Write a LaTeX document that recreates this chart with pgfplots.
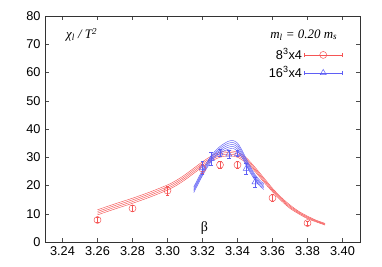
\documentclass[border=0pt]{standalone}
\usepackage{fontspec}
\setmainfont{Liberation Sans}
\newfontfamily\serif{Liberation Serif}
\usepackage{pgfplots}
\pgfplotsset{compat=1.18}
\definecolor{mred}{RGB}{245,85,85}
\definecolor{mblue}{RGB}{95,95,245}
\begin{document}
\fontsize{12.8}{15}\selectfont
\begin{tikzpicture}
\begin{axis}[
  scale only axis, width=315bp, height=226bp,
  xmin=3.23, xmax=3.41, ymin=0, ymax=80,
  xtick={3.24,3.26,3.28,3.30,3.32,3.34,3.36,3.38,3.40},
  ytick={0,10,20,30,40,50,60,70,80},
  x tick label style={/pgf/number format/.cd, fixed, fixed zerofill, precision=2},
  /pgf/number format/assume math mode=true,
  ticklabel style={font=\fontsize{12.8}{15}\selectfont},
  tick align=inside, major tick length=4bp,
  axis line style={black!80, line width=0.6bp},
  tick style={black!70, line width=0.5bp},
  legend plot pos=right, legend cell align=right,
  legend style={draw=none, fill=none, at={(rel axis cs:0.945,0.865)}, anchor=north east,
    font=\fontsize{12.8}{15}\selectfont, row sep=1.5bp, inner sep=0pt},
  legend image code/.code={
    \draw[mark repeat=2,mark phase=2,#1] plot coordinates {(0bp,0bp) (19bp,0bp) (38bp,0bp)};
    \draw[#1] (0bp,-2bp) -- (0bp,2bp);
    \draw[#1] (38bp,-2bp) -- (38bp,2bp);
  },
  error bars/error bar style={line width=0.5bp},
  error bars/error mark options={rotate=90, mark size=1.8bp, line width=0.5bp},
]
% legend images
\addlegendimage{mred, line width=0.5bp, mark=o, mark size=3.5bp}
\addlegendentry{8\textsuperscript{3}x4}
\addlegendimage{mblue, line width=0.5bp, mark=triangle, mark size=3.5bp}
\addlegendentry{16\textsuperscript{3}x4}

% red band
\addplot[mred, line width=0.45bp, smooth, forget plot] coordinates {
(3.26,9.6)(3.27,11.7)(3.28,13.7)(3.29,15.9)(3.30,18.4)(3.305,20.0)(3.31,22.0)(3.315,24.3)(3.32,26.6)(3.325,28.6)(3.33,30.0)(3.335,30.5)(3.34,30.0)(3.345,28.0)(3.35,24.95)(3.355,21.25)(3.36,17.8)(3.365,14.6)(3.37,11.9)(3.375,9.95)(3.38,8.25)(3.385,7.1)(3.39,6.0)};
\addplot[mred, line width=0.45bp, smooth, forget plot] coordinates {
(3.26,10.2)(3.27,12.3)(3.28,14.3)(3.29,16.5)(3.30,19.0)(3.305,20.6)(3.31,22.6)(3.315,24.9)(3.32,27.2)(3.325,29.2)(3.33,30.6)(3.335,31.1)(3.34,30.6)(3.345,28.6)(3.35,25.45)(3.355,21.75)(3.36,18.2)(3.365,15.0)(3.37,12.3)(3.375,10.25)(3.38,8.55)(3.385,7.3)(3.39,6.2)};
\addplot[mred, line width=0.45bp, smooth, forget plot] coordinates {
(3.26,10.8)(3.27,12.9)(3.28,14.9)(3.29,17.1)(3.30,19.6)(3.305,21.2)(3.31,23.2)(3.315,25.5)(3.32,27.8)(3.325,29.8)(3.33,31.2)(3.335,31.7)(3.34,31.2)(3.345,29.2)(3.35,25.95)(3.355,22.25)(3.36,18.6)(3.365,15.4)(3.37,12.7)(3.375,10.55)(3.38,8.85)(3.385,7.5)(3.39,6.4)};
\addplot[mred, line width=0.45bp, smooth, forget plot] coordinates {
(3.26,11.4)(3.27,13.5)(3.28,15.5)(3.29,17.7)(3.30,20.2)(3.305,21.8)(3.31,23.8)(3.315,26.1)(3.32,28.4)(3.325,30.4)(3.33,31.8)(3.335,32.3)(3.34,31.8)(3.345,29.8)(3.35,26.45)(3.355,22.75)(3.36,19.0)(3.365,15.8)(3.37,13.1)(3.375,10.85)(3.38,9.15)(3.385,7.7)(3.39,6.6)};

% blue band
\addplot[mblue, line width=0.45bp, smooth, forget plot] coordinates {
(3.315,17.5)(3.3175,20.5)(3.32,23.5)(3.3225,26.2)(3.325,28.5)(3.3275,30.2)(3.33,31.4)(3.3325,32.3)(3.335,32.9)(3.3375,33.1)(3.34,32.2)(3.3425,30.0)(3.345,27.1)(3.3475,24.3)(3.35,21.9)(3.3525,20.0)(3.355,18.6)};
\addplot[mblue, line width=0.45bp, smooth, forget plot] coordinates {
(3.315,18.0)(3.3175,21.0)(3.32,24.0)(3.3225,26.7)(3.325,29.0)(3.3275,30.75)(3.33,32.0)(3.3325,32.95)(3.335,33.6)(3.3375,33.8)(3.34,32.9)(3.3425,30.65)(3.345,27.7)(3.3475,24.85)(3.35,22.4)(3.3525,20.5)(3.355,19.1)};
\addplot[mblue, line width=0.45bp, smooth, forget plot] coordinates {
(3.315,18.5)(3.3175,21.5)(3.32,24.5)(3.3225,27.2)(3.325,29.5)(3.3275,31.3)(3.33,32.6)(3.3325,33.6)(3.335,34.3)(3.3375,34.5)(3.34,33.6)(3.3425,31.3)(3.345,28.3)(3.3475,25.4)(3.35,22.9)(3.3525,21.0)(3.355,19.6)};
\addplot[mblue, line width=0.45bp, smooth, forget plot] coordinates {
(3.315,19.0)(3.3175,22.0)(3.32,25.0)(3.3225,27.7)(3.325,30.0)(3.3275,31.85)(3.33,33.2)(3.3325,34.25)(3.335,35.0)(3.3375,35.2)(3.34,34.3)(3.3425,31.95)(3.345,28.9)(3.3475,25.95)(3.35,23.4)(3.3525,21.5)(3.355,20.1)};
\addplot[mblue, line width=0.45bp, smooth, forget plot] coordinates {
(3.315,19.5)(3.3175,22.5)(3.32,25.5)(3.3225,28.2)(3.325,30.5)(3.3275,32.4)(3.33,33.8)(3.3325,34.9)(3.335,35.7)(3.3375,35.9)(3.34,35.0)(3.3425,32.6)(3.345,29.5)(3.3475,26.5)(3.35,23.9)(3.3525,22.0)(3.355,20.6)};

% red data
\addplot[mred, only marks, mark=o, mark size=3.5bp, line width=0.5bp, forget plot,
  error bars/.cd, y dir=both, y explicit] coordinates {
(3.26,7.8) +- (0,0.8)
(3.28,11.9) +- (0,1.0)
(3.30,18.2) +- (0,1.5)
(3.32,26.0) +- (0,1.5)
(3.33,27.3) +- (0,1.2)
(3.34,27.3) +- (0,1.2)
(3.36,15.6) +- (0,1.2)
(3.38,6.7) +- (0,0.8)
};
% blue data
\addplot[mblue, only marks, mark=triangle, mark size=3.5bp, line width=0.5bp, forget plot,
  error bars/.cd, y dir=both, y explicit] coordinates {
(3.32,26.3) +- (0,2.2)
(3.325,29.4) +- (0,2.3)
(3.33,31.5) +- (0,1.2)
(3.335,31.0) +- (0,1.5)
(3.34,31.3) +- (0,1.1)
(3.345,26.0) +- (0,2.0)
(3.35,21.2) +- (0,1.8)
};

\node[anchor=west, font=\serif\itshape\fontsize{13}{15}\selectfont] at (axis cs:3.2395,73.3) {χ\textsubscript{l} / T\textsuperscript{2}};
\node[anchor=east, font=\serif\itshape\fontsize{13}{15}\selectfont] at (axis cs:3.3995,73.3) {m\textsubscript{l} = 0.20 m\textsubscript{s}};
\node[font=\serif\fontsize{14}{15}\selectfont] at (axis cs:3.3211,5.0) {β};
\end{axis}
\path ([shift={(-45bp,-25bp)}]current axis.south west) rectangle ([shift={(22bp,16bp)}]current axis.north east);
\end{tikzpicture}
\end{document}
